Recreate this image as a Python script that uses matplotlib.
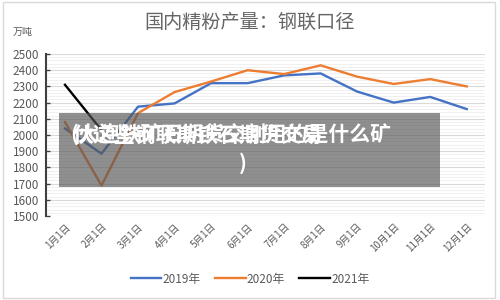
import matplotlib
matplotlib.use("Agg")
import matplotlib.pyplot as plt
from matplotlib.patches import Rectangle

plt.rcParams['font.family'] = ['Noto Sans CJK SC', 'DejaVu Sans']

months = ["1月1日", "2月1日", "3月1日", "4月1日", "5月1日", "6月1日",
          "7月1日", "8月1日", "9月1日", "10月1日", "11月1日", "12月1日"]
y2019 = [2040, 1885, 2175, 2195, 2320, 2320, 2368, 2380, 2268, 2200, 2235, 2160]
y2020 = [2080, 1688, 2135, 2265, 2330, 2400, 2376, 2430, 2360, 2315, 2345, 2300]
y2021 = [2310, 2030]
yticks = [1500, 1600, 1700, 1800, 1900, 2000, 2100, 2200, 2300, 2400, 2500]

grey = '#595959'

fig = plt.figure(figsize=(5, 3), dpi=100)
ax = fig.add_axes([0.092, 0.28, 0.878, 0.54])

x = list(range(len(months)))
ax.plot(x, y2019, color='#4472C4', lw=1.7, label='2019年')
ax.plot(x, y2020, color='#ED7D31', lw=1.7, label='2020年')
ax.plot(x[:len(y2021)], y2021, color='black', lw=1.7, label='2021年')

ax.set_xlim(-0.52, 11.5)
ax.set_ylim(1500, 2500)
ax.set_yticks(yticks)
ax.set_yticks(range(1500, 2501, 20), minor=True)
ax.grid(axis='y', which='major', color='#d9d9d9', lw=0.8)
ax.grid(axis='y', which='minor', color='#eeeeee', lw=0.6)
ax.set_axisbelow(True)
ax.set_xticks(x)
ax.set_xticklabels(months, rotation=45, ha='right', rotation_mode='anchor',
                   fontsize=7, color=grey)
ax.tick_params(axis='x', length=0, pad=4)
ax.tick_params(axis='y', which='major', direction='in', length=3, width=1,
               color='#404040', labelsize=8.5, labelcolor=grey, pad=5)
ax.tick_params(axis='y', which='minor', length=0)
for s in ['top', 'right', 'bottom']:
    ax.spines[s].set_visible(False)
ax.spines['left'].set_color('#404040')
ax.spines['left'].set_linewidth(1.5)

fig.text(0.5, 1 - 22.5 / 300, "国内精粉产量：钢联口径", ha='center', va='center',
         fontsize=13.8, color='#666666')
fig.text(0.045, 1 - 31.5 / 300, "万吨", ha='center', va='center',
         fontsize=7.2, color=grey)

fig.legend(loc='center', bbox_to_anchor=(0.5, 1 - 279 / 300), ncol=3,
           frameon=False, fontsize=8.5, labelcolor=grey, handlelength=2.6,
           handletextpad=0.1, columnspacing=1.2)

# outer frame
fig.patches.append(Rectangle((0.006, 0.008), 0.984, 0.985, transform=fig.transFigure,
                             fill=False, edgecolor='#d9d9d9', lw=1))

# overlay box with two overlapping captions (as in the source picture)
fig.patches.append(Rectangle((59 / 500, 1 - 186.5 / 300), 381 / 500, 73.5 / 300,
                             transform=fig.transFigure, facecolor='#555555',
                             alpha=0.66, edgecolor='none', zorder=10))
fig.text(70 / 500, 1 - 135 / 300, "(大连铁矿石期货交割用的是什么矿", ha='left',
         va='center', fontsize=15, color='white', weight='bold', zorder=11)
fig.text(73 / 500, 1 - 135 / 300, "伙这些钢联斯铁石期货交易", ha='left',
         va='center', fontsize=15, color='white', weight='bold', zorder=11)
fig.text(243 / 500, 1 - 163 / 300, ")", ha='center', va='center',
         fontsize=15, color='white', weight='bold', zorder=11)

fig.savefig("out.png", dpi=100)
